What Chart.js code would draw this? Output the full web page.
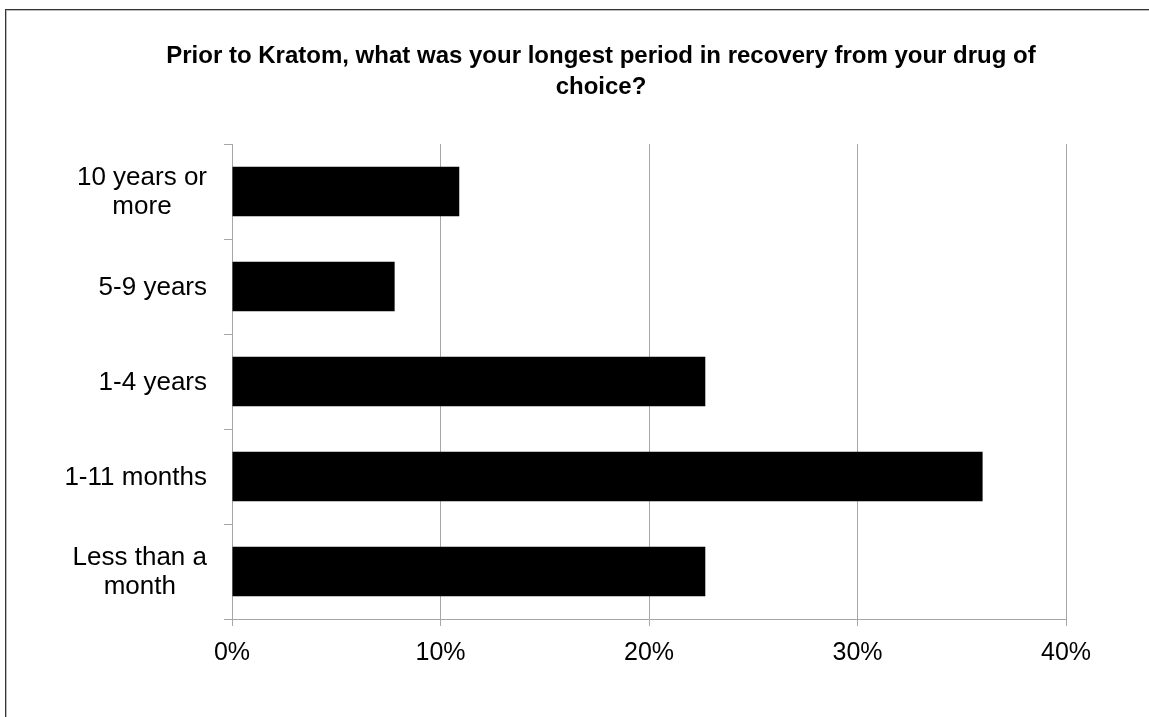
<!DOCTYPE html>
<html>
<head>
<meta charset="utf-8">
<script src="https://cdn.jsdelivr.net/npm/chart.js@4.4.1/dist/chart.umd.min.js"></script>
<style>
  html, body { margin: 0; padding: 0; background: #fff; overflow: hidden; }
  .frame {
    position: absolute;
    left: 5px;
    top: 9px;
    width: 1190px;
    height: 760px;
    border-top: 1px solid #333;
    border-left: 1px solid #333;
    box-shadow: inset 1px 1px 0 #bbb;
  }
  canvas { display: block; }
</style>
</head>
<body>
<div class="frame">
  <canvas id="chart" width="1190" height="760"></canvas>
</div>
<script>
  const categories = [
    ["10 years or", "more"],
    ["5-9 years"],
    ["1-4 years"],
    ["1-11 months"],
    ["Less than a", "month"]
  ];
  const shares = [10.9, 7.8, 22.7, 36.0, 22.7];
  const xTicks = [0, 10, 20, 30, 40];

  const titleLines = [
    "Prior to Kratom, what was your longest period in recovery from your drug of",
    "choice?"
  ];

  const fontFamily = "'Liberation Sans', Arial, Helvetica, sans-serif";
  const gridGray = "#a6a6a6";

  // category labels: each block right aligned, lines centred inside the block
  const categoryLabels = {
    id: "categoryLabels",
    afterDraw(chart) {
      const { ctx } = chart;
      const yScale = chart.scales.y;
      const right = yScale.right - 8 - 17;
      const lineH = 29.5;
      ctx.save();
      ctx.font = "26px " + fontFamily;
      ctx.fillStyle = "#000";
      ctx.textAlign = "center";
      ctx.textBaseline = "middle";
      categories.forEach((lines, i) => {
        const y = yScale.getPixelForValue(i) + 1;
        const w = Math.max(...lines.map((l) => ctx.measureText(l).width));
        const cx = right - w / 2;
        const y0 = y - ((lines.length - 1) * lineH) / 2;
        lines.forEach((l, j) => ctx.fillText(l, cx, y0 + j * lineH));
      });
      ctx.restore();
    }
  };

  new Chart(document.getElementById("chart"), {
    type: "bar",
    data: {
      labels: categories.map((c) => c.join(" ")),
      datasets: [
        {
          data: shares,
          backgroundColor: "#000",
          borderWidth: 0,
          barPercentage: 0.52,
          categoryPercentage: 1
        }
      ]
    },
    options: {
      indexAxis: "y",
      responsive: false,
      animation: false,
      layout: { padding: 0 },
      plugins: {
        legend: { display: false },
        tooltip: { enabled: false },
        title: {
          display: true,
          text: titleLines,
          color: "#000",
          font: { family: fontFamily, size: 24, weight: "bold", lineHeight: 1.3 },
          padding: { top: 31, bottom: 40.6 }
        }
      },
      scales: {
        x: {
          min: 0,
          max: 40,
          afterBuildTicks(scale) {
            scale.ticks = xTicks.map((v) => ({ value: v }));
          },
          afterFit(scale) {
            scale.height = 151;
          },
          grid: {
            color: gridGray,
            lineWidth: 1,
            tickLength: 7,
            drawTicks: true
          },
          border: { color: gridGray, width: 1 },
          ticks: {
            color: "#000",
            padding: 12,
            font: { family: fontFamily, size: 25 },
            callback: (v) => v + "%"
          }
        },
        y: {
          offset: true,
          afterFit(scale) {
            scale.width = 226;
          },
          grid: {
            offset: true,
            drawOnChartArea: false,
            color: gridGray,
            tickLength: 8
          },
          border: { color: gridGray, width: 1 },
          ticks: { display: false }
        },
        // empty strip on the right so the plot ends at 40%
        yRight: {
          type: "category",
          position: "right",
          afterFit(scale) {
            scale.width = 130;
          },
          grid: { display: false },
          border: { display: false },
          ticks: { display: false }
        }
      }
    },
    plugins: [categoryLabels]
  });
</script>
</body>
</html>
